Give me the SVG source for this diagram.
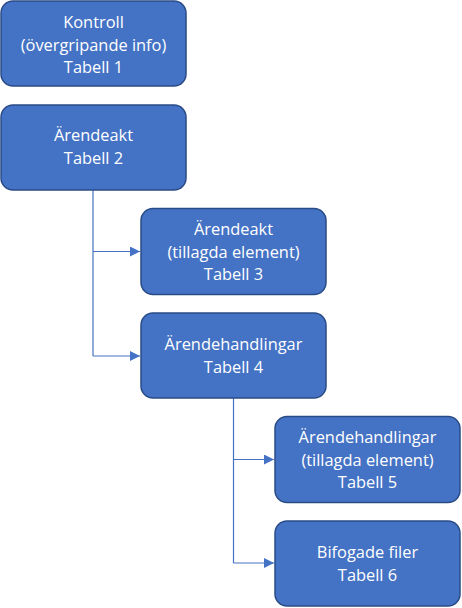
<svg xmlns="http://www.w3.org/2000/svg" width="462" height="608" viewBox="0 0 462 608">
<defs>
<style>
.box{fill:#4472C4;stroke:#2A4C86;stroke-width:1.5}
.t{fill:#fff;font-family:"Open Sans","Liberation Sans",sans-serif;font-size:16.4px;text-anchor:middle}
.c{fill:none;stroke:#4472C4;stroke-width:1.2}
</style>
<marker id="a" viewBox="0 0 10 10" refX="10" refY="5" markerWidth="10" markerHeight="10" markerUnits="userSpaceOnUse" orient="auto">
<path d="M0,0 L10,5 L0,10 z" fill="#4472C4"/>
</marker>
</defs>
<rect width="462" height="608" fill="#fff"/>
<g id="connectors">
<path class="c" d="M93,190 V356"/>
<path class="c" d="M93,251.5 H140" marker-end="url(#a)"/>
<path class="c" d="M93,356 H140" marker-end="url(#a)"/>
<path class="c" d="M233.5,398 V563"/>
<path class="c" d="M233.5,459.5 H274" marker-end="url(#a)"/>
<path class="c" d="M233.5,563 H274" marker-end="url(#a)"/>
</g>
<g id="n1"><rect class="box" x="1" y="1" width="185" height="85" rx="12"/>
<text class="t" x="93.5" y="28">Kontroll</text><text class="t" x="93.5" y="50.5">(övergripande info)</text><text class="t" x="93.5" y="73">Tabell 1</text></g>
<g id="n2"><rect class="box" x="1" y="105" width="185" height="85" rx="12"/>
<text class="t" x="93.5" y="141">Ärendeakt</text><text class="t" x="93.5" y="164">Tabell 2</text></g>
<g id="n3"><rect class="box" x="141" y="208.5" width="185" height="86" rx="12"/>
<text class="t" x="233.5" y="235">Ärendeakt</text><text class="t" x="233.5" y="257.5">(tillagda element)</text><text class="t" x="233.5" y="280">Tabell 3</text></g>
<g id="n4"><rect class="box" x="141" y="313" width="185" height="85" rx="12"/>
<text class="t" x="233.5" y="350">Ärendehandlingar</text><text class="t" x="233.5" y="373">Tabell 4</text></g>
<g id="n5"><rect class="box" x="275" y="416.5" width="185" height="86" rx="12"/>
<text class="t" x="367.5" y="443">Ärendehandlingar</text><text class="t" x="367.5" y="465.5">(tillagda element)</text><text class="t" x="367.5" y="488">Tabell 5</text></g>
<g id="n6"><rect class="box" x="275" y="521" width="185" height="85" rx="12"/>
<text class="t" x="367.5" y="558">Bifogade filer</text><text class="t" x="367.5" y="581">Tabell 6</text></g>
</svg>
